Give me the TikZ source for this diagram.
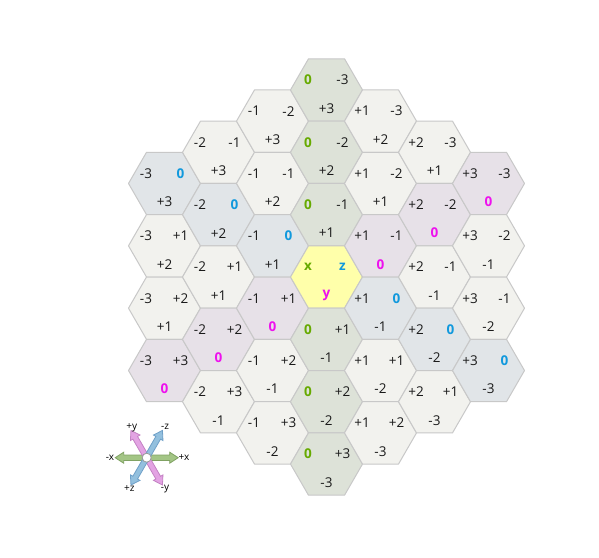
\documentclass[tikz,border=0pt]{standalone}
\usepackage{fontspec}
\setmainfont{Open Sans}
\definecolor{hexfill}{HTML}{F2F2EE}
\definecolor{xfill}{HTML}{DDE2D8}
\definecolor{zfill}{HTML}{E1E5E8}
\definecolor{yfill}{HTML}{E7E1E8}
\definecolor{cfill}{HTML}{FFFFAA}
\definecolor{hexline}{HTML}{C8C8C8}
\definecolor{xcol}{HTML}{66AA00}
\definecolor{zcol}{HTML}{1199DD}
\definecolor{ycol}{HTML}{EE11EE}
\definecolor{numcol}{HTML}{1A1A1A}
\definecolor{garrowf}{HTML}{A3C585}
\definecolor{garrowd}{HTML}{80A263}
\definecolor{parrowf}{HTML}{E3A3E3}
\definecolor{parrowd}{HTML}{C482C4}
\definecolor{barrowf}{HTML}{93C0DE}
\definecolor{barrowd}{HTML}{6FA0C8}
\newcommand{\hexnum}[2]{%
  \ifnum#1>0 +#1\else\ifnum#1<0 #1\else{\bfseries\color{#2}0}\fi\fi}
\newcommand{\dblarrow}[3]{%
  \filldraw[fill=#2, draw=#3, line width=0.8pt, line join=miter, rotate=#1]
    (31.5,0) -- (23,5.5) -- (23,2.7) -- (-23,2.7) -- (-23,5.5) -- (-31.5,0)
    -- (-23,-5.5) -- (-23,-2.7) -- (23,-2.7) -- (23,-5.5) -- cycle;}
\begin{document}
\begin{tikzpicture}[x=1pt,y=-1pt,
  hexcell/.style={draw=hexline, line width=1pt, line join=round},
  lbl/.style={inner sep=0pt, font=\fontsize{13.5}{14}\selectfont, text=numcol},
  clbl/.style={inner sep=0pt, font=\fontsize{10}{11}\selectfont, text=black}]
\fill[white] (0,0) rectangle (599,557);
\useasboundingbox (0,0) rectangle (599,557);
\foreach \q in {-3,...,3} {
  \foreach \r in {-3,...,3} {
    \pgfmathtruncatemacro\s{-\q-\r}
    \pgfmathtruncatemacro\inrange{(\s>=-3)&&(\s<=3)}
    \ifnum\inrange=1
      \pgfmathtruncatemacro\qi{\q+3}
      \pgfmathtruncatemacro\ri{\r+3}
      \pgfmathsetmacro\cx{326.5+54*\q}
      \pgfmathsetmacro\cy{277+62.354*(\r+\q/2)}
      \def\hf{hexfill}
      \ifnum\q=0 \def\hf{xfill}\fi
      \ifnum\r=0 \def\hf{zfill}\fi
      \ifnum\s=0 \def\hf{yfill}\fi
      \ifnum\q=0 \ifnum\r=0 \def\hf{cfill}\fi\fi
      \filldraw[hexcell, fill=\hf]
        (\cx+36,\cy) -- (\cx+18,\cy-31.177) -- (\cx-18,\cy-31.177)
        -- (\cx-36,\cy) -- (\cx-18,\cy+31.177) -- (\cx+18,\cy+31.177) -- cycle;
      \ifnum\q=0 \ifnum\r=0
        \node[lbl, font=\fontsize{13.5}{14}\selectfont\bfseries, text=xcol] (hx\qi\ri) at (\cx-18.5,\cy-10) {x};
        \node[lbl, font=\fontsize{13.5}{14}\selectfont\bfseries, text=zcol] (hz\qi\ri) at (\cx+16,\cy-10) {z};
        \node[lbl, font=\fontsize{13.5}{14}\selectfont\bfseries, text=ycol] (hy\qi\ri) at (\cx,\cy+18.5) {y};
      \else
        \node[lbl] (hx\qi\ri) at (\cx-18.5,\cy-10) {\hexnum{\q}{xcol}};
        \node[lbl] (hz\qi\ri) at (\cx+16,\cy-10) {\hexnum{\r}{zcol}};
        \node[lbl] (hy\qi\ri) at (\cx,\cy+18.5) {\hexnum{\s}{ycol}};
      \fi
      \else
        \node[lbl] (hx\qi\ri) at (\cx-18.5,\cy-10) {\hexnum{\q}{xcol}};
        \node[lbl] (hz\qi\ri) at (\cx+16,\cy-10) {\hexnum{\r}{zcol}};
        \node[lbl] (hy\qi\ri) at (\cx,\cy+18.5) {\hexnum{\s}{ycol}};
      \fi
    \fi
  }
}
% compass
\begin{scope}[shift={(146.7,457.7)}]
  \dblarrow{0}{garrowf}{garrowd}
  \dblarrow{120}{parrowf}{parrowd}
  \dblarrow{60}{barrowf}{barrowd}
  \node[circle, fill=white, draw=gray!80, line width=0.8pt, minimum size=9pt, inner sep=0pt] (ccenter) at (0,0) {};
\end{scope}
\node[clbl] (lpy) at (131.7,427.3) {+y};
\node[clbl] (lmz) at (165,427.3) {-z};
\node[clbl] (lmx) at (110,457.7) {-x};
\node[clbl] (lpx) at (184,457.7) {+x};
\node[clbl] (lpz) at (129.3,489) {+z};
\node[clbl] (lmy) at (165,489) {-y};
\end{tikzpicture}
\end{document}
